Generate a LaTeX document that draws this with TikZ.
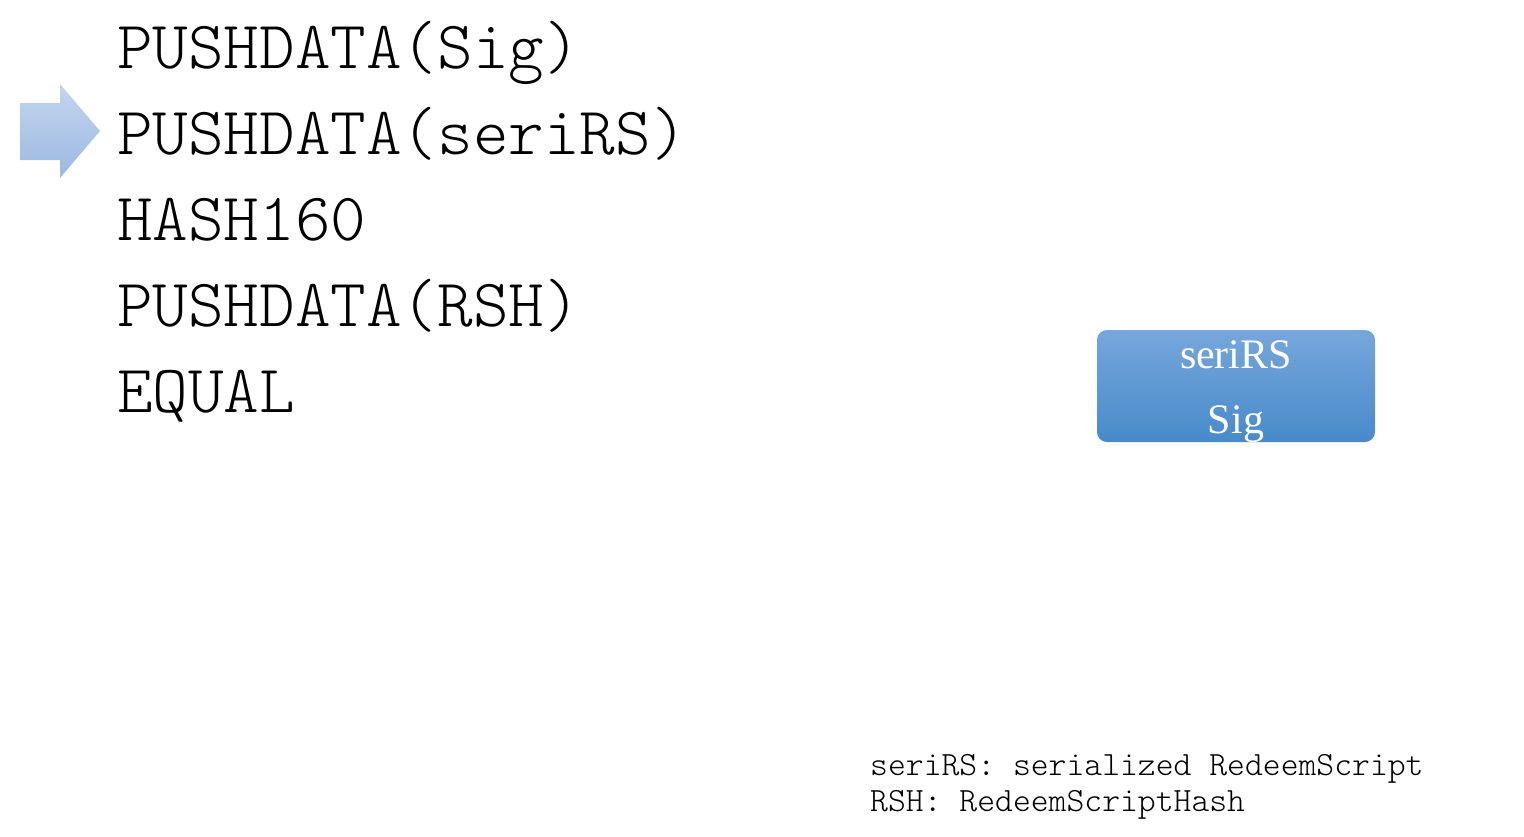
\documentclass[tikz,border=0pt]{standalone}
\usepackage{fontspec}
\setmainfont{Liberation Serif}
\newfontfamily\codefont{Latin Modern Mono Light}
\usetikzlibrary{calc}
\definecolor{arrowtop}{RGB}{194,213,238}
\definecolor{arrowbot}{RGB}{157,185,224}
\definecolor{stacktop}{RGB}{118,167,219}
\definecolor{stackbot}{RGB}{72,138,202}
\tikzset{
  op/.style={anchor=base west,inner sep=0pt,font=\codefont\fontsize{67.8}{70}\selectfont},
  note/.style={anchor=base west,inner sep=0pt,font=\codefont\fontsize{34}{36}\selectfont},
  item/.style={anchor=base,inner sep=0pt,text=white,font=\fontsize{42}{44}\selectfont}
}

\begin{document}
\begin{tikzpicture}[x=1pt,y=-1pt]
\useasboundingbox (0,0) rectangle (1524,836);

% script
\node[op] (op1) at (117,68) {PUSHDATA(Sig)};
\node[op] (op2) at (117,154) {PUSHDATA(seriRS)};
\node[op] (op3) at (117,240) {HASH160};
\node[op] (op4) at (117,326) {PUSHDATA(RSH)};
\node[op] (op5) at (117,412) {EQUAL};

% pointer
\shade[top color=arrowtop,bottom color=arrowbot]
  (20,103) -- (60,103) -- (60,84) -- (100,131) -- (60,178) -- (60,160) -- (20,160) -- cycle;

% stack
\shade[top color=stacktop,bottom color=stackbot,rounded corners=10pt]
  (1097,330) rectangle (1375,442);
\node[item] (s1) at (1236,368) {seriRS};
\node[item] (s2) at (1236,433) {Sig};

% legend
\node[note] (n1) at (870,775) {seriRS: serialized RedeemScript};
\node[note] (n2) at (870,811) {RSH: RedeemScriptHash};

\end{tikzpicture}
\end{document}
